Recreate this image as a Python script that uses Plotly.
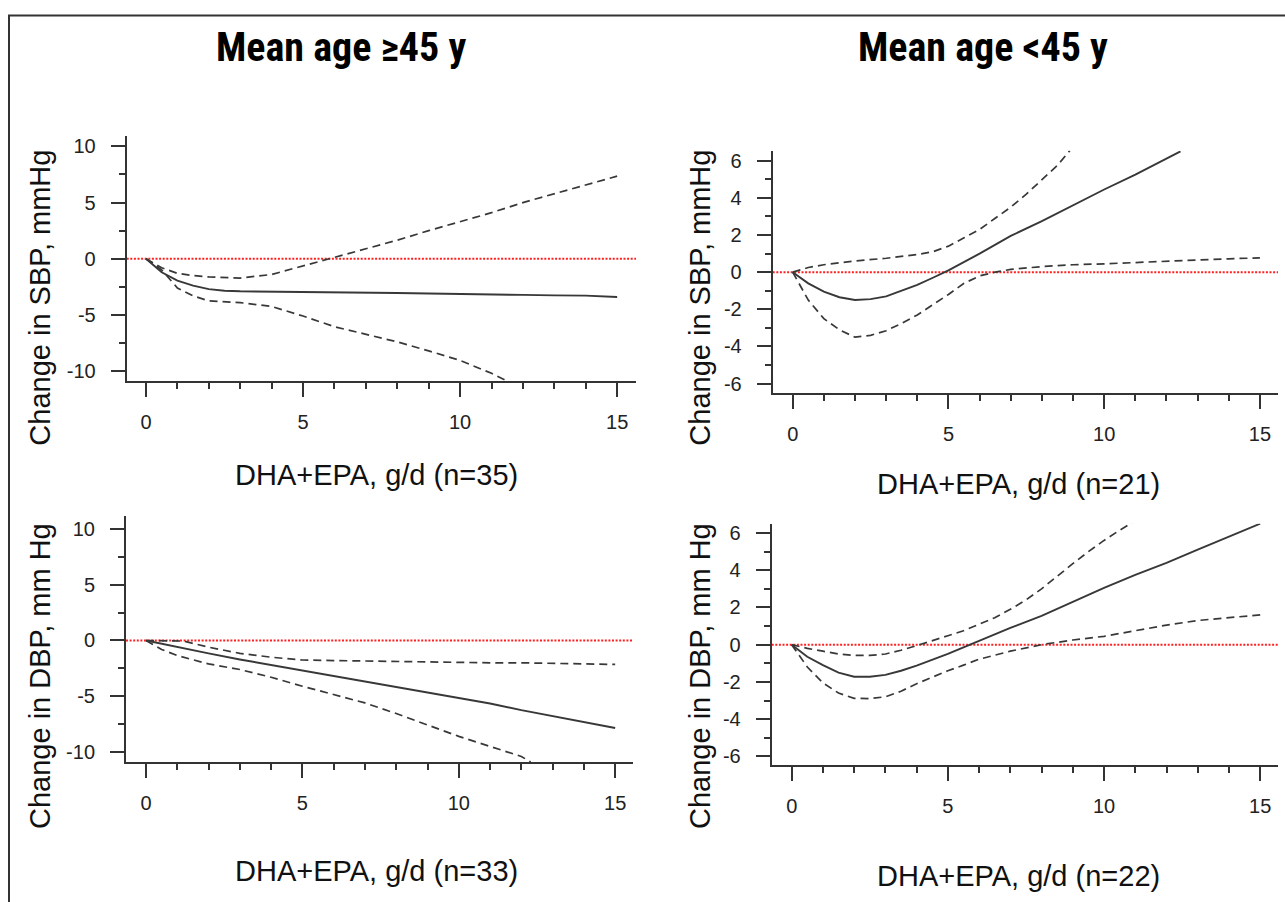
import plotly.graph_objects as go

W, H = 1285, 902

# ---------------- data ----------------
# Panel A: SBP, mean age >=45 y
sbp_old_x_fit = [0, 0.5, 1, 1.5, 2, 2.5, 3, 4, 5, 6, 7, 8, 9, 10, 11, 12, 13, 14, 15]
sbp_old_fit = [0, -1.2, -1.95, -2.4, -2.7, -2.85, -2.9, -2.92, -2.93, -2.95, -3.0, -3.05, -3.1, -3.12, -3.18, -3.22, -3.26, -3.28, -3.4]
sbp_old_x_up = [0, 0.5, 1, 1.5, 2, 2.5, 3, 4, 5, 6, 7, 8, 9, 10, 11, 12, 13, 14, 15]
sbp_old_up = [0, -0.8, -1.3, -1.5, -1.62, -1.7, -1.72, -1.4, -0.65, 0.1, 0.9, 1.65, 2.5, 3.3, 4.1, 5.0, 5.8, 6.55, 7.35]
sbp_old_x_lo = [0, 0.5, 1, 1.5, 2, 2.5, 3, 4, 5, 6, 7, 8, 9, 10, 11, 11.5]
sbp_old_lo = [0, -1.0, -2.6, -3.3, -3.75, -3.85, -3.9, -4.25, -5.1, -6.05, -6.7, -7.4, -8.2, -9.05, -10.2, -10.9]

# Panel B: SBP, mean age <45 y
sbp_young_x_fit = [0, 0.5, 1, 1.5, 2, 2.5, 3, 3.5, 4, 4.5, 5, 6, 7, 8, 9, 10, 11, 12, 12.45]
sbp_young_fit = [0, -0.6, -1.05, -1.35, -1.5, -1.45, -1.3, -1.0, -0.68, -0.3, 0.1, 1.0, 1.95, 2.75, 3.6, 4.45, 5.25, 6.1, 6.5]
sbp_young_x_up = [0, 0.5, 1, 2, 3, 4, 4.5, 5, 5.5, 6, 6.5, 7, 7.5, 8, 8.5, 8.9]
sbp_young_up = [0, 0.25, 0.4, 0.6, 0.75, 0.95, 1.1, 1.4, 1.85, 2.3, 2.9, 3.5, 4.2, 4.95, 5.75, 6.55]
sbp_young_x_lo = [0, 0.5, 1, 1.5, 2, 2.5, 3, 3.5, 4, 4.5, 5, 5.5, 6, 6.5, 7, 8, 9, 10, 11, 12, 13, 14, 15]
sbp_young_lo = [0, -1.5, -2.5, -3.1, -3.5, -3.4, -3.15, -2.75, -2.3, -1.75, -1.2, -0.6, -0.2, 0.0, 0.15, 0.3, 0.4, 0.45, 0.52, 0.6, 0.68, 0.72, 0.77]

# Panel C: DBP, mean age >=45 y
dbp_old_x_fit = [0, 1, 2, 3, 4, 5, 6, 7, 8, 9, 10, 11, 12, 13, 14, 15]
dbp_old_fit = [0, -0.6, -1.15, -1.7, -2.2, -2.7, -3.15, -3.65, -4.15, -4.65, -5.15, -5.65, -6.25, -6.8, -7.3, -7.85]
dbp_old_x_up = [0, 1, 1.2, 2, 3, 4, 5, 6, 7, 8, 9, 10, 11, 12, 13, 14, 14.5, 15]
dbp_old_up = [0, 0, -0.05, -0.6, -1.15, -1.5, -1.75, -1.8, -1.85, -1.9, -1.95, -2.0, -2.0, -2.0, -2.05, -2.05, -2.1, -2.15]
dbp_old_x_lo = [0, 0.5, 1, 2, 3, 4, 5, 6, 7, 8, 9, 10, 11, 12, 12.3]
dbp_old_lo = [0, -0.8, -1.35, -2.1, -2.6, -3.3, -4.1, -4.85, -5.6, -6.55, -7.55, -8.6, -9.5, -10.4, -10.9]

# Panel D: DBP, mean age <45 y
dbp_young_x_fit = [0, 0.5, 1, 1.5, 2, 2.5, 3, 3.5, 4, 4.5, 5, 5.5, 6, 7, 8, 9, 10, 11, 12, 13, 14, 15]
dbp_young_fit = [0, -0.65, -1.1, -1.5, -1.72, -1.72, -1.62, -1.4, -1.12, -0.82, -0.5, -0.15, 0.2, 0.9, 1.55, 2.3, 3.05, 3.75, 4.4, 5.1, 5.8, 6.5]
dbp_young_x_up = [0, 0.5, 1, 1.5, 2, 2.5, 3, 3.5, 4, 4.5, 5, 5.5, 6, 6.5, 7, 7.5, 8, 8.5, 9, 9.5, 10, 10.5, 10.9]
dbp_young_up = [0, -0.2, -0.35, -0.5, -0.58, -0.58, -0.5, -0.3, -0.05, 0.2, 0.48, 0.75, 1.1, 1.45, 1.9, 2.4, 3.0, 3.7, 4.35, 5.0, 5.6, 6.15, 6.55]
dbp_young_x_lo = [0, 0.5, 1, 1.5, 2, 2.5, 3, 3.5, 4, 4.5, 5, 5.5, 6, 7, 8, 9, 10, 11, 12, 13, 14, 15]
dbp_young_lo = [0, -1.2, -2.05, -2.6, -2.88, -2.9, -2.8, -2.5, -2.1, -1.75, -1.4, -1.1, -0.78, -0.35, 0.0, 0.25, 0.45, 0.75, 1.05, 1.3, 1.45, 1.6]

col_titles = ["Mean age ≥45 y", "Mean age <45 y"]
y_titles = ["Change in SBP, mmHg", "Change in SBP, mmHg", "Change in DBP, mm Hg", "Change in DBP, mm Hg"]
x_titles = ["DHA+EPA, g/d (n=35)", "DHA+EPA, g/d (n=21)", "DHA+EPA, g/d (n=33)", "DHA+EPA, g/d (n=22)"]
x_ticks = [0, 5, 10, 15]
y_ticks_old = [-10, -5, 0, 5, 10]
y_ticks_young = [-6, -4, -2, 0, 2, 4, 6]

panels = [
    (sbp_old_x_fit, sbp_old_fit, sbp_old_x_up, sbp_old_up, sbp_old_x_lo, sbp_old_lo),
    (sbp_young_x_fit, sbp_young_fit, sbp_young_x_up, sbp_young_up, sbp_young_x_lo, sbp_young_lo),
    (dbp_old_x_fit, dbp_old_fit, dbp_old_x_up, dbp_old_up, dbp_old_x_lo, dbp_old_lo),
    (dbp_young_x_fit, dbp_young_fit, dbp_young_x_up, dbp_young_up, dbp_young_x_lo, dbp_young_lo),
]

# ---------------- layout geometry (pixels) ----------------
# (x_left, x_right, y_top, y_bottom) of each plot area
boxes = [
    (126.7, 636.0, 135.0, 381.0),
    (772.7, 1278.0, 149.3, 392.7),
    (126.0, 633.0, 516.7, 763.3),
    (771.7, 1278.0, 524.0, 766.7),
]
x_ranges = [[-0.614, 15.6], [-0.642, 15.58], [-0.64, 15.57], [-0.64, 15.57]]
y_ranges = [[-10.91, 10.89], [-6.50, 6.54], [-10.89, 11.13], [-6.48, 6.50]]
y_major = [5, 2, 5, 2]
y_minor = [2.5, 1, 2.5, 1]

def px(v):
    return v / W

def py(v):
    return 1 - v / H

AX = "#333333"
LINE = "#383838"
FONT = "Liberation Sans, Arial, sans-serif"

fig = go.Figure()
layout = dict(
    width=W, height=H,
    margin=dict(l=0, r=0, t=0, b=0),
    paper_bgcolor="white", plot_bgcolor="white",
    showlegend=False,
    font=dict(family=FONT, color="#222222"),
)

shapes = []
annotations = []
for i, (xf, yf, xu, yu, xl, yl) in enumerate(panels):
    n = "" if i == 0 else str(i + 1)
    xa, ya = "x" + n, "y" + n
    x0, x1, y0, y1 = boxes[i]
    layout["xaxis" + n] = dict(
        domain=[px(x0), px(x1)], anchor=ya, range=x_ranges[i],
        showline=True, linecolor=AX, linewidth=2, showgrid=False, zeroline=False,
        ticks="outside", ticklen=14, tickwidth=2, tickcolor=AX,
        tickmode="array", tickvals=x_ticks, ticktext=[str(t) for t in x_ticks],
        tickfont=dict(size=20, color="#222222", family=FONT),
        ticklabelstandoff=8,
        minor=dict(ticks="outside", ticklen=6, tickwidth=1.5, tickcolor=AX, dtick=1, tick0=0, showgrid=False),
    )
    yt = y_ticks_old if y_major[i] == 5 else y_ticks_young
    layout["yaxis" + n] = dict(
        domain=[py(y1), py(y0)], anchor=xa, range=y_ranges[i],
        showline=True, linecolor=AX, linewidth=2, showgrid=False, zeroline=False,
        ticks="outside", ticklen=14, tickwidth=2, tickcolor=AX,
        tickmode="array", tickvals=yt, ticktext=[str(t) for t in yt],
        tickfont=dict(size=20, color="#222222", family=FONT),
        ticklabelstandoff=11,
        minor=dict(ticks="outside", ticklen=6, tickwidth=1.5, tickcolor=AX, dtick=y_minor[i], tick0=0, showgrid=False),
    )
    # reference line at zero
    shapes.append(dict(type="line", xref=xa + " domain", yref=ya, x0=0, x1=1, y0=0, y1=0,
                       line=dict(color="#ff2020", width=2, dash="2px,1.6px"), layer="below"))
    fig.add_trace(go.Scatter(x=xu, y=yu, xaxis=xa, yaxis=ya, mode="lines",
                             line=dict(color=LINE, width=1.7, dash="8px,5px")))
    fig.add_trace(go.Scatter(x=xl, y=yl, xaxis=xa, yaxis=ya, mode="lines",
                             line=dict(color=LINE, width=1.7, dash="8px,5px")))
    fig.add_trace(go.Scatter(x=xf, y=yf, xaxis=xa, yaxis=ya, mode="lines",
                             line=dict(color=LINE, width=1.9)))

# axis titles
x_title_pos = [(376, 475), (1018, 484), (376, 873), (1018, 878)]
y_title_pos = [(40, 297), (700, 297), (40, 677), (700, 677)]
for i in range(4):
    annotations.append(dict(text=x_titles[i], xref="paper", yref="paper",
                            x=px(x_title_pos[i][0]), y=py(x_title_pos[i][1]),
                            xanchor="center", yanchor="middle", showarrow=False,
                            font=dict(size=29, color="#111111", family=FONT)))
    annotations.append(dict(text=y_titles[i], xref="paper", yref="paper",
                            x=px(y_title_pos[i][0]), y=py(y_title_pos[i][1]),
                            xanchor="center", yanchor="middle", showarrow=False, textangle=-90,
                            font=dict(size=29, color="#111111", family=FONT)))

# column titles
for txt, cx in zip(col_titles, [341, 983]):
    annotations.append(dict(text="<b>" + txt + "</b>", xref="paper", yref="paper",
                            x=px(cx), y=py(46), xanchor="center", yanchor="middle", showarrow=False,
                            font=dict(size=40, color="#000000",
                                      family="Liberation Sans Narrow, Arial Narrow, Roboto Condensed, Liberation Sans")))

# outer frame (top and left edges visible)
shapes.append(dict(type="rect", xref="paper", yref="paper",
                   x0=px(9), x1=px(W + 20), y0=py(H + 20), y1=py(13.5),
                   line=dict(color="#333333", width=2), fillcolor="rgba(0,0,0,0)", layer="above"))

layout["shapes"] = shapes
layout["annotations"] = annotations
fig.update_layout(**layout)
fig.write_html("out.html")
